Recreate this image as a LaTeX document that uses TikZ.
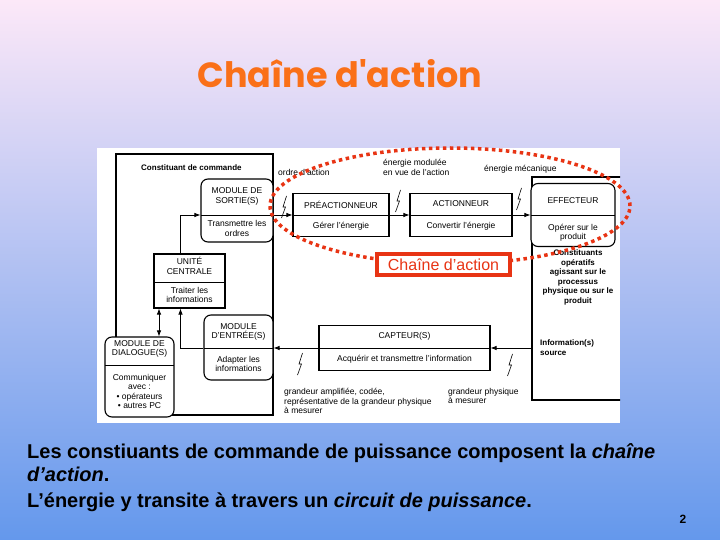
\documentclass[tikz,border=0pt]{standalone}
\usepackage{fontspec}
\setmainfont{Liberation Sans}
\newfontfamily\titrefont{Poppins}
\usetikzlibrary{arrows.meta, positioning}

\definecolor{titreorange}{RGB}{250,112,24}
\definecolor{rougechaine}{RGB}{232,52,20}
\definecolor{fondhaut}{RGB}{252,232,248}
\definecolor{fondmilieu}{RGB}{186,206,240}
\definecolor{fondbas}{RGB}{100,152,236}

\tikzset{
  bloc/.style={draw, fill=white, line width=1.1pt, inner sep=0pt},
  module/.style={bloc, rounded corners=7pt},
  separe/.style={path picture={\draw[line width=0.8pt]
      ([yshift=-#1pt]path picture bounding box.north west) --
      ([yshift=-#1pt]path picture bounding box.north east);}},
  petit/.style={font=\fontsize{8.5}{9.5}\selectfont, align=center, inner sep=0pt},
  gras/.style={petit, font=\bfseries\fontsize{8}{9.5}\selectfont},
  fleche/.style={-{Latex[length=6pt,width=4.5pt]}, line width=0.8pt},
  eclair/.pic={\draw[line width=0.6pt] (2.5,-11) -- (-1,0) -- (1.5,0) -- (-2.5,11);},
}

\begin{document}
\begin{tikzpicture}[x=1pt, y=-1pt]
% fond
\shade[top color=fondhaut, middle color=fondmilieu, bottom color=fondbas] (0,0) rectangle (720,540);
\fill[white] (97,148) rectangle (620,423);

\node[font=\titrefont\bfseries\fontsize{35}{35}\selectfont, text=titreorange] (titre) at (340,74) {Chaîne d'action};

% constituant de commande
\node[bloc, fill=none, minimum width=157pt, minimum height=261pt] (commande) at (194.5,284.5) {};
\node[gras, anchor=west] (commandetxt) at (141,168) {Constituant de commande};

% partie operative
\begin{scope}
  \clip (97,148) rectangle (620,423);
  \node[bloc, fill=none, minimum width=118pt, minimum height=223pt] (operatif) at (591,288.5) {};
\end{scope}
\node[gras] (operatiftxt) at (578,277.5) {Constituants\\opératifs\\agissant sur le\\processus\\physique ou sur le\\produit};
\node[gras, anchor=west, align=left] (source) at (540,347.5) {Information(s)\\source};

% blocs
\node[module, separe=36, minimum width=72pt, minimum height=63pt] (sortie) at (237,210.5) {};
\node[bloc, separe=28, minimum width=71pt, minimum height=54pt] (uc) at (189.5,281) {};
\node[module, separe=33, minimum width=69pt, minimum height=65pt] (entree) at (238.5,347.5) {};
\node[module, separe=28, minimum width=69pt, minimum height=80pt] (dialogue) at (139.5,377) {};
\node[bloc, separe=21.5, minimum width=96pt, minimum height=43pt] (preact) at (341,215) {};
\node[bloc, separe=21.5, minimum width=102pt, minimum height=43pt] (act) at (461,215) {};
\node[module, separe=31.5, minimum width=84pt, minimum height=63pt] (effecteur) at (573,215) {};
\node[bloc, separe=22.5, minimum width=171pt, minimum height=45pt] (capteur) at (404.5,348) {};

\node[petit] at ([yshift=-18pt]sortie.north) {MODULE DE\\SORTIE(S)};
\node[petit] at ([yshift=14pt]sortie.south) {Transmettre les\\ordres};
\node[petit] at ([yshift=-12.5pt]uc.north) {UNITÉ\\CENTRALE};
\node[petit] at ([yshift=13.5pt]uc.south) {Traiter les\\informations};
\node[petit] at ([yshift=-17.5pt]entree.north) {MODULE\\D'ENTRÉE(S)};
\node[petit] at ([yshift=16.5pt]entree.south) {Adapter les\\informations};
\node[petit] at ([yshift=-12.5pt]dialogue.north) {MODULE DE\\DIALOGUE(S)};
\node[petit] at ([yshift=26pt]dialogue.south) {Communiquer\\avec :\\• opérateurs\\• autres PC};
\node[petit] at ([yshift=-11.5pt]preact.north) {PRÉACTIONNEUR};
\node[petit] at ([yshift=10.5pt]preact.south) {Gérer l'énergie};
\node[petit] at ([yshift=-11pt]act.north) {ACTIONNEUR};
\node[petit] at ([yshift=11pt]act.south) {Convertir l'énergie};
\node[petit] at ([yshift=-17.5pt]effecteur.north) {EFFECTEUR};
\node[petit] at ([yshift=14.5pt]effecteur.south) {Opérer sur le\\produit};
\node[petit] at ([yshift=-11pt]capteur.north) {CAPTEUR(S)};
\node[petit] at ([yshift=12pt]capteur.south) {Acquérir et transmettre l'information};

% liaisons
\draw[fleche] (preact.west -| sortie.east) -- (preact.west);
\draw[fleche] (preact.east) -- (act.west);
\draw[fleche] (act.east) -- (effecteur.west);
\draw[fleche] ([xshift=-9pt]uc.north) |- (sortie.west |- preact.west);
\draw[fleche] (capteur.west -| entree.west) -| ([xshift=-9pt]uc.south);
\draw[fleche] (capteur.west) -- (capteur.west -| entree.east);
\draw[fleche] (capteur.east -| operatif.west) -- (capteur.east);
\draw[{Latex[length=6pt,width=4.5pt]}-{Latex[length=6pt,width=4.5pt]}, line width=0.8pt]
  ([xshift=-30.5pt]uc.south) -- ([xshift=19.5pt]dialogue.north);

\pic at (284,207) {eclair};
\pic at (398,201) {eclair};
\pic at (519,199) {eclair};
\pic at (300,364) {eclair};
\pic at (510,365) {eclair};

\node[petit, anchor=west] (ordre) at (278,172) {ordre d'action};
\node[petit, anchor=west, align=left] (module) at (383,167.5) {énergie modulée\\en vue de l'action};
\node[petit, anchor=west] (meca) at (484,169) {énergie mécanique};
\node[petit, anchor=west, align=left] (amplifiee) at (284,401) {grandeur amplifiée, codée,\\représentative de la grandeur physique\\à mesurer};
\node[petit, anchor=west, align=left] (physique) at (448,396) {grandeur physique\\à mesurer};

% chaine d'action
\draw[rougechaine, line width=3.5pt, dash pattern=on 3.5pt off 3.5pt] (450,206) ellipse [x radius=180pt, y radius=58pt];
\node[draw=rougechaine, line width=3.5pt, fill=white, text=rougechaine, font=\fontsize{16}{16}\selectfont,
  minimum width=133pt, minimum height=21pt] (chaine) at (443.5,264.5) {Chaîne d'action};

% texte
\node[anchor=north west, align=left, inner sep=0pt, font=\bfseries\fontsize{20}{23}\selectfont] (texte) at (27,443)
  {Les constiuants de commande de puissance composent la \textit{chaîne}\\\textit{d'action}.\\[3pt]
   L'énergie y transite à travers un \textit{circuit de puissance}.};
\node[font=\bfseries\fontsize{12}{12}\selectfont] (page) at (683,519) {2};
\end{tikzpicture}
\end{document}
